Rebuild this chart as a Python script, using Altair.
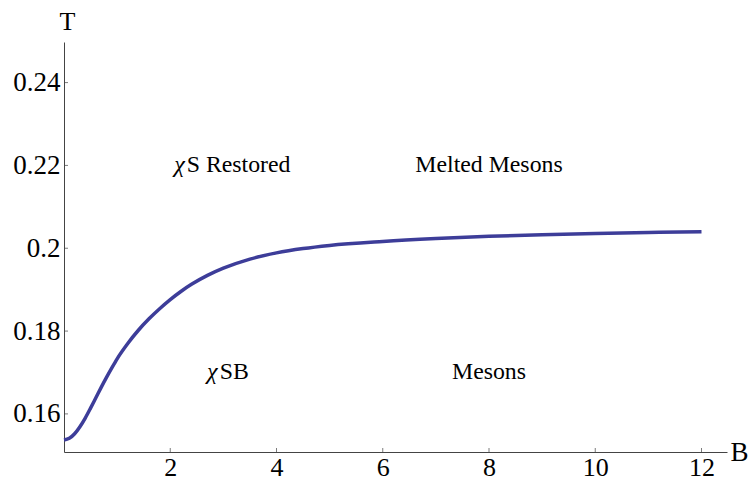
import altair as alt
import pandas as pd

# Critical temperature T as a function of the magnetic field B
B = [0.0, 0.1, 0.2, 0.3, 0.4, 0.5, 0.6, 0.7, 0.8, 0.9, 1.0, 1.2, 1.4, 1.6, 1.8,
     2.0, 2.2, 2.4, 2.7, 3.0, 3.5, 4.0, 4.5, 5.0, 6.0, 7.0, 8.0, 9.0, 10.0, 11.0, 12.0]
T = [0.1537, 0.1541, 0.1552, 0.1569, 0.1590, 0.1614, 0.1639, 0.1664, 0.1688, 0.1711,
     0.1733, 0.1770, 0.1802, 0.18296, 0.1854, 0.1876, 0.18956, 0.19128, 0.19344,
     0.19518, 0.19738, 0.19888, 0.19993, 0.20068, 0.20163, 0.20233, 0.20288,
     0.20328, 0.20358, 0.2038, 0.20397]

x_ticks = [2, 4, 6, 8, 10, 12]
y_ticks = [0.16, 0.18, 0.2, 0.22, 0.24]

# Plain region labels (centred)
plain_text = ["Melted Mesons", "Mesons"]
plain_B = [8.0, 8.0]
plain_T = [0.22, 0.17]

# Region labels with an italic chi prefix (anchored where the upright part starts)
chi_text = ["S Restored", "SB"]
chi_B = [2.31, 2.93]
chi_T = [0.22, 0.17]

SERIF = "Liberation Serif"
AXIS_COLOR = "#444444"

curve = pd.DataFrame({"B": B, "T": T})
plain = pd.DataFrame({"B": plain_B, "T": plain_T, "label": plain_text})
chi = pd.DataFrame({"B": chi_B, "T": chi_T, "label": chi_text})

x_scale = alt.Scale(domain=[0, 12.48], nice=False, zero=False)
y_scale = alt.Scale(domain=[0.1508, 0.2498], nice=False, zero=False)

x_enc = alt.X(
    "B:Q",
    scale=x_scale,
    axis=alt.Axis(
        values=x_ticks, ticks=False, grid=False, labelPadding=2,
        labelFont=SERIF, labelFontSize=26, labelColor="black",
        domainColor=AXIS_COLOR, labelOverlap=False, labelFlush=False,
        title="B", titleFont=SERIF, titleFontSize=27, titleFontWeight="normal",
        titleColor="black", titleX=666, titleY=0,
        titleAlign="left", titleBaseline="middle",
    ),
)
y_enc = alt.Y(
    "T:Q",
    scale=y_scale,
    axis=alt.Axis(
        values=y_ticks, format=".2~f", ticks=False, grid=False, labelPadding=4,
        labelFont=SERIF, labelFontSize=27, labelColor="black",
        domainColor=AXIS_COLOR, labelOverlap=False, labelFlush=False,
        title="T", titleFont=SERIF, titleFontSize=26, titleFontWeight="normal",
        titleColor="black", titleAngle=0, titleX=3, titleY=-20.5,
        titleAlign="center", titleBaseline="middle",
    ),
)

x_plain = alt.X("B:Q", scale=x_scale)
y_plain = alt.Y("T:Q", scale=y_scale)

line = alt.Chart(curve).mark_line(
    color="#3d3d99", strokeWidth=3.5, interpolate="monotone"
).encode(x=x_enc, y=y_enc)

# Inward-pointing tick marks
x_tick_marks = alt.Chart(pd.DataFrame({"B": x_ticks})).mark_tick(
    orient="vertical", size=4, thickness=1, color=AXIS_COLOR
).encode(x=x_plain, y=alt.value(408))

y_tick_marks = alt.Chart(pd.DataFrame({"T": y_ticks})).mark_tick(
    orient="horizontal", size=4, thickness=1, color=AXIS_COLOR
).encode(y=y_plain, x=alt.value(2))

plain_labels = alt.Chart(plain).mark_text(
    font=SERIF, fontSize=23.8, align="center", baseline="middle", color="black"
).encode(x=x_plain, y=y_plain, text="label:N")

chi_rest = alt.Chart(chi).mark_text(
    font=SERIF, fontSize=23.8, align="left", baseline="middle", color="black"
).encode(x=x_plain, y=y_plain, text="label:N")

chi_symbol = alt.Chart(chi).mark_text(
    text="χ", font=SERIF, fontSize=24, fontStyle="italic",
    align="right", baseline="middle", color="black", dx=-2,
).encode(x=x_plain, y=y_plain)

chart = alt.layer(
    line, x_tick_marks, y_tick_marks, plain_labels, chi_rest, chi_symbol
).properties(
    width=663,
    height=410,
    padding={"left": 64, "top": 42, "right": 25, "bottom": 27},
    autosize="none",
    background="white",
).configure_view(stroke=None)

chart.save("out.html", embed_options={"renderer": "svg", "actions": False})
